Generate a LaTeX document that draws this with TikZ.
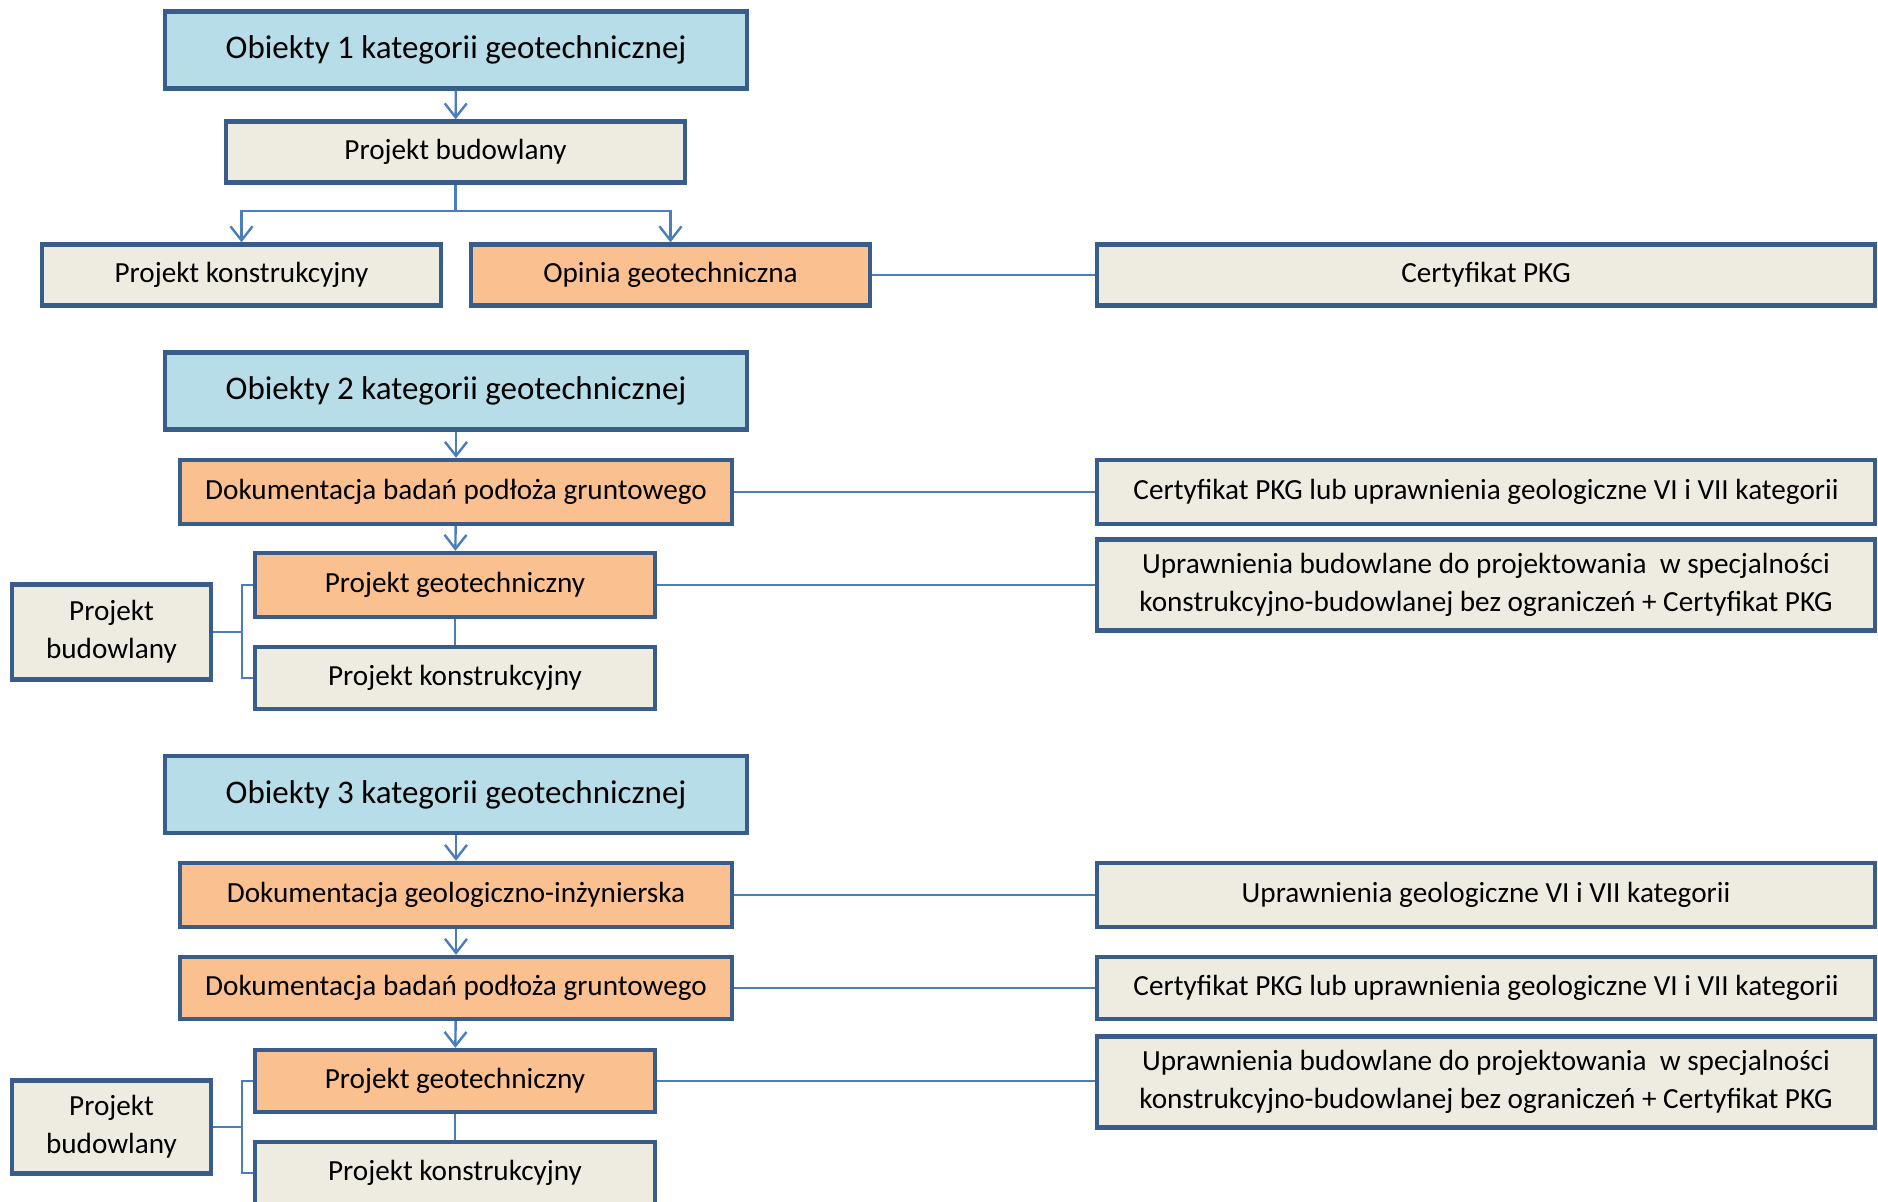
\documentclass[tikz,border=0pt]{standalone}
\usepackage{fontspec}
\setmainfont{Carlito}
\usetikzlibrary{arrows.meta}
\definecolor{bordc}{HTML}{385D8A}
\definecolor{linec}{HTML}{4A7EBB}
\definecolor{bluef}{HTML}{B7DDE8}
\definecolor{orf}{HTML}{FAC090}
\definecolor{bgf}{HTML}{EEECE1}
\tikzset{
  bx/.style={draw=bordc, line width=2.2pt, rectangle, inner sep=0pt, align=center, font=\fontsize{14.6}{19}\selectfont},
  titlebox/.style={bx, fill=bluef, minimum width=291pt, minimum height=38.5pt, font=\fontsize{16.5}{20}\selectfont},
  orbox/.style={bx, fill=orf},
  gbox/.style={bx, fill=bgf},
  conn/.style={draw=linec, line width=1.2pt},
  arr/.style={conn, -{Straight Barb[length=7pt,width=11pt,line width=1.2pt]}},
}
\begin{document}
\begin{tikzpicture}[x=0.5pt,y=-0.5pt]
\useasboundingbox (0,0) rectangle (1878,1201);
\clip (0,0) rectangle (1878,1201);
% Row 1
\node[titlebox] (o1) at (456,50) {Obiekty 1 kategorii geotechnicznej};
\node[gbox, minimum width=229.5pt, minimum height=30.5pt] (pb1) at (455.5,152) {Projekt budowlany};
\node[gbox, minimum width=199.5pt, minimum height=30.5pt] (pk1) at (241.5,275) {Projekt konstrukcyjny};
\node[orbox, minimum width=199.5pt, minimum height=30.5pt] (og1) at (670.5,275) {Opinia geotechniczna};
\node[gbox, minimum width=389pt, minimum height=30.5pt] (cp1) at (1486,275) {Certyfikat PKG};
\coordinate (b1) at (455.5,211);
\draw[arr] (o1) -- (pb1);
\draw[conn] (pb1.south) -- (b1);
\draw[arr] (b1) -| (pk1.north);
\draw[arr] (b1) -| (og1.north);
\draw[conn] (og1.east) -- (cp1.west);
% Row 2
\node[titlebox] (o2) at (456,391) {Obiekty 2 kategorii geotechnicznej};
\node[orbox, minimum width=276pt, minimum height=32pt] (db2) at (456,492) {Dokumentacja badań podłoża gruntowego};
\node[gbox, minimum width=389pt, minimum height=32pt] (cl2) at (1486,492) {Certyfikat PKG lub uprawnienia geologiczne VI i VII kategorii};
\node[orbox, minimum width=200pt, minimum height=32pt] (pg2) at (455,585) {Projekt geotechniczny};
\node[gbox, minimum width=389pt, minimum height=45.5pt] (up2) at (1486,585) {Uprawnienia budowlane do projektowania \ w specjalności\\konstrukcyjno-budowlanej bez ograniczeń + Certyfikat PKG};
\node[gbox, minimum width=200pt, minimum height=31pt] (pk2) at (455,678) {Projekt konstrukcyjny};
\node[gbox, minimum width=99.5pt, minimum height=47.5pt] (pbl2) at (111.5,632) {Projekt\\budowlany};
\coordinate (j2) at (242,632);
\draw[arr] (o2) -- (db2);
\draw[arr] (db2) -- (pg2);
\draw[conn] (pg2) -- (pk2);
\draw[conn] (db2.east) -- (cl2.west);
\draw[conn] (pg2.east) -- (pg2.east -| up2.west);
\draw[conn] (pbl2.east) -- (j2);
\draw[conn] (pg2.west) -| (j2) |- (pk2.west);
% Row 3
\node[titlebox] (o3) at (456,794.5) {Obiekty 3 kategorii geotechnicznej};
\node[orbox, minimum width=276pt, minimum height=32pt] (dg3) at (456,895) {Dokumentacja geologiczno-inżynierska};
\node[gbox, minimum width=389pt, minimum height=32pt] (ug3) at (1486,895) {Uprawnienia geologiczne VI i VII kategorii};
\node[orbox, minimum width=276pt, minimum height=31pt] (db3) at (456,988) {Dokumentacja badań podłoża gruntowego};
\node[gbox, minimum width=389pt, minimum height=31pt] (cl3) at (1486,988) {Certyfikat PKG lub uprawnienia geologiczne VI i VII kategorii};
\node[orbox, minimum width=200pt, minimum height=31pt] (pg3) at (455,1081) {Projekt geotechniczny};
\node[gbox, minimum width=389pt, minimum height=45.5pt] (up3) at (1486,1082) {Uprawnienia budowlane do projektowania \ w specjalności\\konstrukcyjno-budowlanej bez ograniczeń + Certyfikat PKG};
\node[gbox, minimum width=200pt, minimum height=31pt] (pk3) at (455,1173) {Projekt konstrukcyjny};
\node[gbox, minimum width=99.5pt, minimum height=46.5pt] (pbl3) at (111.5,1127) {Projekt\\budowlany};
\coordinate (j3) at (242,1127);
\draw[arr] (o3) -- (dg3);
\draw[arr] (dg3) -- (db3);
\draw[arr] (db3) -- (pg3);
\draw[conn] (pg3) -- (pk3);
\draw[conn] (dg3.east) -- (ug3.west);
\draw[conn] (db3.east) -- (cl3.west);
\draw[conn] (pg3.east) -- (pg3.east -| up3.west);
\draw[conn] (pbl3.east) -- (j3);
\draw[conn] (pg3.west) -| (j3) |- (pk3.west);
\end{tikzpicture}
\end{document}
